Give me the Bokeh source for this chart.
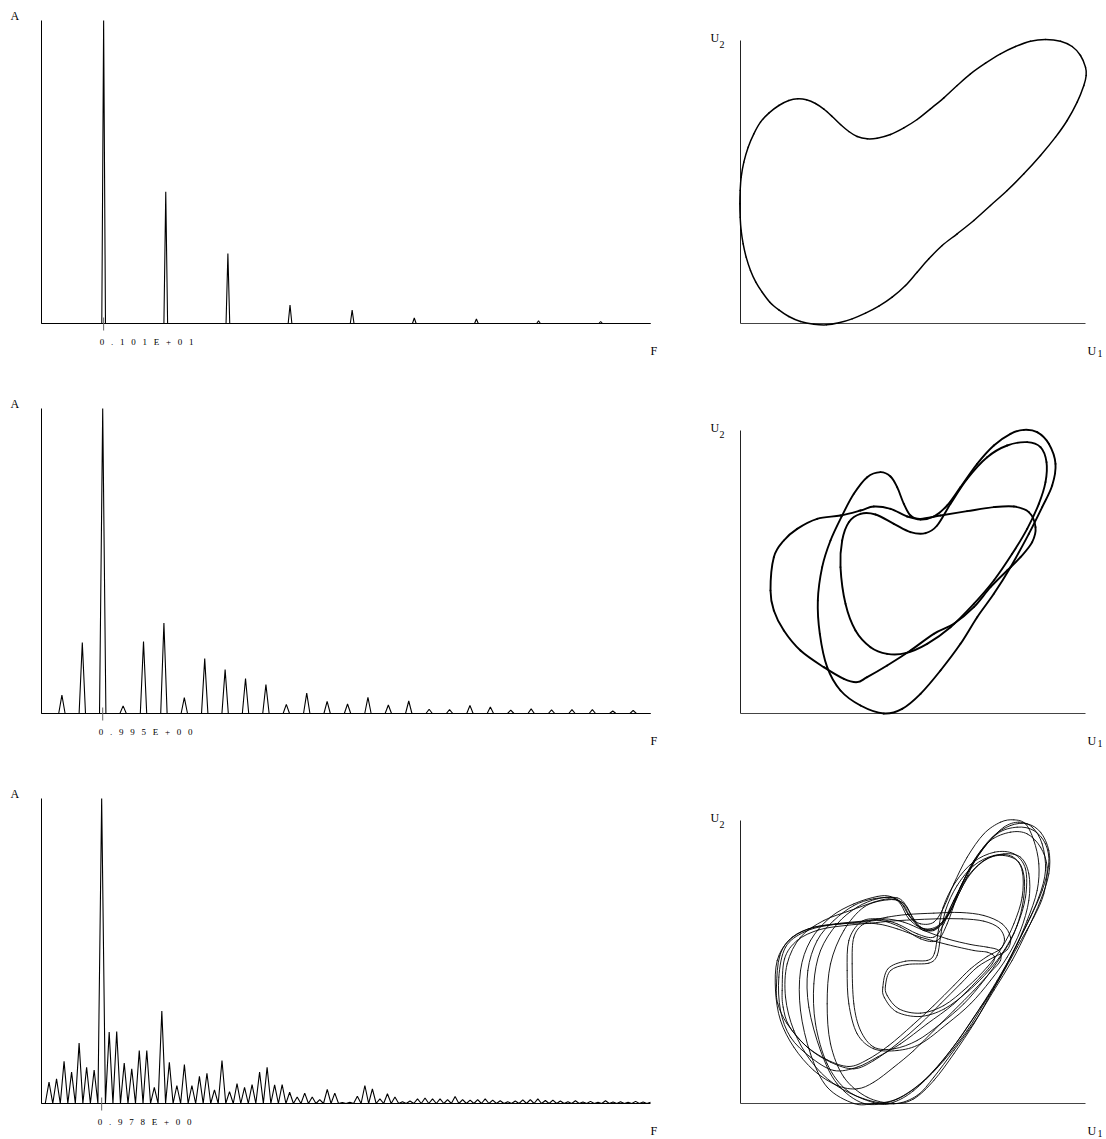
from bokeh.plotting import figure
from bokeh.layouts import column, row
from bokeh.core.properties import value
from bokeh.models import Range1d
from bokeh.embed import file_html
from bokeh.resources import INLINE

FONT = "Liberation Serif"

# ---------------- spectra (amplitude A vs frequency F) ----------------
F_MAX = 9.9

# regime 1: periodic, fundamental 1.01, harmonics 1..9
top_f0 = 1.01
top_amp = [1.0, 0.435, 0.231, 0.061, 0.044, 0.018, 0.015, 0.009, 0.0066]

# regime 2: period-3, lines at k * 0.995/3
mid_f0 = 0.995
mid_amp = [0.06, 0.233, 1.0, 0.025, 0.236, 0.297, 0.052, 0.18, 0.144, 0.115,
           0.095, 0.03, 0.067, 0.04, 0.031, 0.053, 0.028, 0.041, 0.014, 0.013,
           0.026, 0.021, 0.011, 0.015, 0.012, 0.013, 0.013, 0.008, 0.01, 0.01]

# regime 3: chaotic, bins at k * 0.978/8
bot_f0 = 0.978
bot_amp = [0.07, 0.081, 0.138, 0.103, 0.198, 0.119, 0.11, 1.0, 0.234, 0.236,
           0.133, 0.114, 0.174, 0.174, 0.053, 0.303, 0.135, 0.059, 0.128, 0.059,
           0.089, 0.099, 0.045, 0.141, 0.039, 0.065, 0.053, 0.062, 0.103, 0.119,
           0.061, 0.062, 0.037, 0.021, 0.034, 0.021, 0.013, 0.046, 0.034, 0.003,
           0.004, 0.024, 0.059, 0.048, 0.015, 0.032, 0.021, 0.006, 0.008, 0.015,
           0.018, 0.015, 0.015, 0.013, 0.023, 0.013, 0.011, 0.013, 0.015, 0.011,
           0.009, 0.006, 0.008, 0.012, 0.013, 0.015, 0.010, 0.011, 0.008, 0.006,
           0.009, 0.005, 0.007, 0.004, 0.009, 0.005, 0.006, 0.004, 0.007, 0.005,
           0.004]

# tick labels, printed with wide letter spacing
top_label = ["0", ".", "1", "0", "1", "E", "+", "0", "1"]
mid_label = ["0", ".", "9", "9", "5", "E", "+", "0", "0"]
bot_label = ["0", ".", "9", "7", "8", "E", "+", "0", "0"]

# ---------------- phase portraits (U2 vs U1) ----------------
U1_MAX = 10.35
U2_MAX = 8.49

top_u1 = [-0.02, -0.01, 0.02, 0.08, 0.17, 0.30, 0.46, 0.65, 0.88, 1.15, 1.45, 1.80, 2.20, 2.58,
          2.95, 3.35, 3.75, 4.15, 4.55, 4.95, 5.30, 5.65, 6.05, 6.50, 7.00, 7.50, 8.00, 8.50,
          9.00, 9.45, 9.80, 10.10, 10.30, 10.37, 10.35, 10.20, 9.95, 9.60, 9.15, 8.70, 8.25,
          7.80, 7.35, 6.90, 6.50, 6.10, 5.70, 5.30, 4.90, 4.50, 4.10, 3.80, 3.50, 3.25, 3.00,
          2.75, 2.50, 2.25, 1.98, 1.72, 1.45, 1.15, 0.85, 0.60, 0.40, 0.23, 0.10, 0.02, -0.01]
top_u2 = [3.59, 3.19, 2.79, 2.39, 1.99, 1.59, 1.24, 0.94, 0.64, 0.41, 0.21, 0.06, -0.02, -0.04,
          0.02, 0.14, 0.31, 0.52, 0.79, 1.14, 1.54, 1.94, 2.34, 2.69, 3.09, 3.54, 3.99, 4.49,
          5.04, 5.59, 6.09, 6.64, 7.14, 7.44, 7.69, 8.04, 8.31, 8.47, 8.52, 8.47, 8.31,
          8.09, 7.81, 7.49, 7.14, 6.77, 6.44, 6.12, 5.87, 5.67, 5.56, 5.54, 5.61, 5.76, 5.97,
          6.21, 6.43, 6.60, 6.71, 6.74, 6.69, 6.54, 6.31, 6.04, 5.69, 5.29, 4.84, 4.39, 3.99]

mid_a_u1 = [0.90, 1.00, 1.30, 1.70, 2.30, 3.00, 3.60, 4.00, 4.50, 5.00, 5.40, 6.00, 6.80, 7.60,
            8.20, 8.65, 8.85, 8.75, 8.40, 8.00, 7.50, 7.00, 6.40, 5.80, 5.10, 4.40, 3.80, 3.50,
            3.10, 2.50, 1.80, 1.30, 1.00]
mid_a_u2 = [3.69, 4.69, 5.19, 5.54, 5.84, 5.94, 6.09, 6.21, 6.14, 5.91, 5.84, 5.94, 6.07, 6.19,
            6.21, 6.04, 5.59, 5.14, 4.69, 4.29, 3.79, 3.19, 2.69, 2.39, 1.89, 1.44, 1.09, 0.94,
            1.04, 1.39, 1.89, 2.49, 3.09]
mid_b_u1 = [4.30, 3.60, 3.00, 2.60, 2.38, 2.32, 2.45, 2.70, 3.05, 3.40, 3.80, 4.20, 4.50, 4.70,
            4.90, 5.10, 5.40, 5.80, 6.20, 6.60, 7.10, 7.60, 8.10, 8.50, 8.90, 9.25, 9.45, 9.35,
            9.05, 8.65, 8.10, 7.60, 7.10, 6.60, 6.00, 5.40, 4.85]
mid_b_u2 = [0.00, 0.24, 0.69, 1.39, 2.39, 3.39, 4.39, 5.19, 5.94, 6.59, 7.09, 7.24, 7.11, 6.79,
            6.29, 5.94, 5.82, 5.91, 6.24, 6.79, 7.49, 8.04, 8.39, 8.51, 8.44, 8.09, 7.49, 6.84,
            6.19, 5.39, 4.39, 3.59, 2.89, 2.09, 1.29, 0.59, 0.14]
mid_c_u1 = [3.00, 3.05, 3.25, 3.60, 4.05, 4.60, 5.10, 5.55, 5.90, 6.30, 6.80, 7.40, 8.00, 8.60,
            9.00, 9.18, 9.15, 8.95, 8.60, 8.15, 7.60, 7.00, 6.30, 5.60, 4.95, 4.40, 3.90, 3.45, 3.15]
mid_c_u2 = [4.39, 5.19, 5.74, 5.99, 5.97, 5.69, 5.44, 5.41, 5.64, 6.29, 7.04, 7.69, 8.04, 8.14,
            7.99, 7.54, 6.94, 6.29, 5.54, 4.79, 3.99, 3.29, 2.59, 2.09, 1.81, 1.79, 1.99, 2.49, 3.29]

bot_loops_u1 = [
    [1.08, 1.18, 1.55, 2.20, 3.00, 3.80, 4.40, 5.00, 5.80, 6.60, 7.30, 7.85, 8.10, 8.00, 7.60, 7.10,
     6.60, 6.00, 5.40, 4.70, 4.00, 3.40, 2.70, 2.00, 1.40, 1.12],
    [1.15, 1.35, 1.90, 2.60, 3.40, 4.10, 4.70, 5.40, 6.20, 7.00, 7.40, 7.62, 7.55, 7.20, 6.40, 5.60,
     4.80, 4.10, 3.50, 2.80, 2.10, 1.50, 1.20],
    [4.10, 3.20, 2.60, 2.25, 2.20, 2.40, 2.90, 3.50, 4.10, 4.60, 4.90, 5.10, 5.40, 5.80, 6.10, 6.40,
     6.80, 7.30, 7.80, 8.20, 8.55, 8.80, 8.95, 8.90, 8.60, 8.20, 7.70, 7.20, 6.60, 5.90, 5.20, 4.60],
    [3.70, 2.90, 2.40, 2.05, 2.02, 2.30, 2.80, 3.40, 4.00, 4.70, 5.00, 5.20, 5.50, 5.90, 6.30, 6.60,
     7.00, 7.50, 8.10, 8.60, 9.00, 9.20, 9.10, 8.80, 8.30, 7.80, 7.30, 6.80, 6.10, 5.40, 4.60],
    [4.60, 3.80, 3.10, 2.70, 2.60, 2.70, 3.10, 3.70, 4.40, 4.85, 5.10, 5.40, 5.80, 6.20, 6.60, 7.10,
     7.70, 8.30, 8.80, 9.15, 9.25, 9.05, 8.70, 8.30, 7.90, 7.40, 7.00, 6.40, 5.80, 5.20],
    [3.35, 3.40, 3.70, 4.20, 4.80, 5.40, 5.90, 6.20, 6.50, 6.90, 7.40, 7.90, 8.35, 8.52, 8.45, 8.20,
     7.80, 7.30, 6.70, 6.00, 5.30, 4.60, 4.00, 3.60, 3.40],
    [3.20, 3.25, 3.60, 4.10, 4.70, 5.30, 5.80, 6.10, 6.40, 6.80, 7.30, 7.90, 8.40, 8.65, 8.65, 8.40,
     8.00, 7.50, 6.90, 6.20, 5.40, 4.70, 4.00, 3.50, 3.25],
    [4.35, 4.50, 5.00, 5.65, 5.90, 6.00, 6.15, 6.50, 7.00, 7.60, 8.15, 8.45, 8.45, 8.20, 7.85, 7.40,
     6.80, 6.10, 5.40, 4.75, 4.40],
    [4.27, 4.42, 4.95, 5.60, 5.82, 5.92, 6.08, 6.45, 6.98, 7.62, 8.20, 8.55, 8.55, 8.30, 7.92, 7.45,
     6.85, 6.12, 5.38, 4.68, 4.32],
    [1.25, 1.32, 1.70, 2.35, 3.15, 3.90, 4.50, 5.15, 5.90, 6.65, 7.30, 7.75, 7.92, 7.80, 7.40, 6.90,
     6.40, 5.80, 5.15, 4.45, 3.80, 3.25, 2.60, 1.95, 1.45, 1.28],
    [3.40, 2.60, 2.10, 1.80, 1.80, 2.10, 2.70, 3.40, 4.10, 4.50, 4.80, 5.05, 5.50, 6.00, 6.40, 6.85,
     7.40, 7.90, 8.35, 8.75, 9.05, 9.15, 8.95, 8.55, 8.10, 7.60, 7.00, 6.30, 5.50, 4.70, 4.00],
    [1.05, 1.10, 1.45, 2.05, 2.85, 3.65, 4.30, 4.90, 5.50, 6.20, 6.90, 7.40, 7.75, 7.80, 7.50, 7.00,
     6.40, 5.80, 5.20, 4.60, 4.00, 3.50, 2.90, 2.20, 1.60, 1.20],
    [4.60, 3.70, 2.80, 2.10, 1.60, 1.35, 1.40, 1.80, 2.50, 3.30, 4.00, 4.45, 4.80, 5.05, 5.40, 5.85,
     6.25, 6.60, 7.05, 7.55, 8.10, 8.60, 9.00, 9.25, 9.25, 9.00, 8.60, 8.15, 7.60, 7.05, 6.40, 5.80,
     5.30],
]
bot_loops_u2 = [
    [3.54, 4.44, 4.99, 5.29, 5.39, 5.47, 5.59, 5.67, 5.71, 5.73, 5.64, 5.39, 4.99, 4.61, 4.39, 4.09,
     3.59, 2.99, 2.39, 1.79, 1.29, 1.04, 1.24, 1.69, 2.39, 2.99],
    [3.79, 4.69, 5.14, 5.34, 5.41, 5.39, 5.24, 4.99, 4.77, 4.59, 4.54, 4.41, 4.19, 3.79, 2.99, 2.39,
     1.79, 1.39, 1.09, 0.99, 1.39, 1.99, 2.79],
    [0.00, 0.39, 1.19, 2.39, 3.59, 4.59, 5.39, 5.89, 6.14, 6.17, 5.94, 5.59, 5.39, 5.44, 5.89, 6.59,
     7.39, 8.09, 8.44, 8.51, 8.39, 7.89, 7.19, 6.39, 5.49, 4.59, 3.69, 2.89, 1.99, 1.09, 0.39, 0.04],
    [0.00, 0.59, 1.59, 2.89, 3.99, 4.89, 5.49, 5.94, 6.14, 6.17, 5.89, 5.49, 5.19, 5.29, 5.79, 6.49,
     7.29, 7.89, 8.14, 8.09, 7.69, 7.09, 6.29, 5.59, 4.69, 3.79, 2.99, 2.19, 1.29, 0.59, 0.09],
    [0.00, 0.19, 0.79, 1.79, 2.99, 4.19, 5.19, 5.89, 6.11, 6.04, 5.69, 5.29, 5.19, 5.59, 6.39, 7.39,
     8.09, 8.29, 8.19, 7.79, 7.19, 6.39, 5.59, 4.79, 3.99, 3.09, 2.39, 1.49, 0.69, 0.14],
    [4.19, 4.99, 5.39, 5.49, 5.29, 4.94, 4.89, 5.39, 6.19, 6.89, 7.34, 7.44, 7.24, 6.69, 5.89, 5.09,
     4.39, 3.69, 2.99, 2.39, 1.89, 1.64, 1.69, 2.19, 2.99],
    [3.99, 4.89, 5.44, 5.54, 5.39, 5.09, 4.99, 5.39, 6.09, 6.79, 7.29, 7.49, 7.39, 6.89, 6.09, 5.19,
     4.39, 3.69, 2.99, 2.39, 1.79, 1.59, 1.64, 2.09, 2.99],
    [3.54, 3.99, 4.17, 4.21, 4.44, 4.99, 5.79, 6.54, 7.14, 7.44, 7.41, 6.99, 6.19, 5.39, 4.69, 4.09,
     3.49, 2.94, 2.71, 2.84, 3.24],
    [3.49, 4.04, 4.27, 4.29, 4.51, 5.09, 5.89, 6.64, 7.24, 7.54, 7.49, 7.04, 6.19, 5.34, 4.61, 3.99,
     3.39, 2.84, 2.61, 2.75, 3.17],
    [3.39, 4.34, 4.89, 5.21, 5.34, 5.41, 5.47, 5.51, 5.54, 5.54, 5.47, 5.27, 4.94, 4.64, 4.41, 4.04,
     3.54, 2.94, 2.34, 1.74, 1.31, 1.11, 1.31, 1.74, 2.34, 2.89],
    [0.00, 0.49, 1.49, 2.79, 3.99, 4.89, 5.59, 5.99, 6.21, 6.21, 5.99, 5.54, 5.24, 5.39, 6.09, 6.99,
     7.79, 8.29, 8.44, 8.29, 7.79, 6.99, 6.19, 5.29, 4.39, 3.49, 2.59, 1.59, 0.69, 0.14, 0.00],
    [3.39, 4.29, 4.89, 5.24, 5.39, 5.47, 5.54, 5.44, 5.19, 4.94, 4.77, 4.69, 4.59, 4.29, 3.94, 3.39,
     2.79, 2.19, 1.59, 1.09, 0.64, 0.44, 0.54, 0.99, 1.69, 2.49],
    [-0.01, 0.14, 0.59, 1.29, 2.19, 3.19, 4.19, 4.99, 5.49, 5.79, 6.04, 6.14, 6.04, 5.64, 5.29, 5.24,
     5.69, 6.49, 7.34, 7.99, 8.34, 8.39, 8.14, 7.59, 6.89, 6.09, 5.19, 4.29, 3.39, 2.49, 1.59, 0.79,
     0.24],
]

# ---------------- layout (pixels) ----------------
LEFT_W, RIGHT_W = 700, 406
GAP = " \u00a0\u00a0"   # wide letter spacing of the printed tick value


def make_fig(W, H, left, top, bw, bh, xmax, ymax):
    """Figure whose whole canvas is the frame; the data box 0..xmax, 0..ymax
    sits at (left, top) with size bw x bh pixels."""
    sx, sy = bw / xmax, bh / ymax
    p = figure(width=W, height=H,
               x_range=Range1d(-left / sx, (W - left) / sx),
               y_range=Range1d(-(H - top - bh) / sy, ymax + top / sy),
               output_backend="svg", toolbar_location=None,
               x_axis_location=None, y_axis_location=None, min_border=0)
    p.outline_line_color = None
    p.grid.visible = False
    p.background_fill_color = "white"
    p.border_fill_color = "white"
    return p, sx, sy


def put_text(p, x, y, s, size):
    p.text(x=[x], y=[y], text=[s], text_font=value(FONT), text_font_size=size,
           text_color="black", text_baseline="alphabetic", text_align="left")


def clip_x(xs, ys, xmax):
    ox, oy = [xs[0]], [ys[0]]
    for i in range(1, len(xs)):
        if xs[i] <= xmax:
            ox.append(xs[i]); oy.append(ys[i])
        else:
            t = (xmax - xs[i - 1]) / (xs[i] - xs[i - 1])
            ox.append(xmax); oy.append(ys[i - 1] + t * (ys[i] - ys[i - 1]))
            break
    return ox, oy


def spectrum(H, top, bh, df, amps, hw, main_f, label):
    p, sx, sy = make_fig(LEFT_W, H, 41, top, 609, bh, F_MAX, 1.0)
    p.line([0, 0], [0, 1], line_color="black", line_width=1)
    p.line([0, F_MAX], [0, 0], line_color="black", line_width=1)
    p.segment(x0=[main_f], y0=[-7 / sy], x1=[main_f], y1=[6 / sy], line_color="#666666", line_width=1)
    xs, ys = [0.0], [0.0]
    for k, a in enumerate(amps, start=1):
        f = k * df
        xs += [f - hw, f, f + hw]
        ys += [0.0, a, 0.0]
    xs.append(F_MAX + 1)
    ys.append(0.0)
    xs, ys = clip_x(xs, ys, F_MAX)
    p.line(xs, ys, line_color="black", line_width=1.1)
    put_text(p, -31 / sx, 5 / sy + 1.0, "A", "12px")
    put_text(p, F_MAX + 0 / sx, -27 / sy, "F", "12px")
    put_text(p, main_f - 4 / sx, -18 / sy, GAP.join(label), "9px")
    return p


def smooth_closed(u, v):
    """Bezier segments through the read points of a closed orbit."""
    n = len(u)
    seg = dict(x0=[], y0=[], x1=[], y1=[], cx0=[], cy0=[], cx1=[], cy1=[])
    for i in range(n):
        a, b, c, d = (i - 1) % n, i, (i + 1) % n, (i + 2) % n
        seg["x0"].append(u[b]); seg["y0"].append(v[b])
        seg["x1"].append(u[c]); seg["y1"].append(v[c])
        seg["cx0"].append(u[b] + (u[c] - u[a]) / 6); seg["cy0"].append(v[b] + (v[c] - v[a]) / 6)
        seg["cx1"].append(u[c] - (u[d] - u[b]) / 6); seg["cy1"].append(v[c] - (v[d] - v[b]) / 6)
    return seg


def phase(H, top, loops_u1, loops_u2, lw):
    p, sx, sy = make_fig(RIGHT_W, H, 40, top, 345, 283, U1_MAX, U2_MAX)
    p.line([0, 0], [0, U2_MAX], line_color="#222222", line_width=1)
    p.line([0, U1_MAX], [0, 0], line_color="#444444", line_width=1.2)
    for u, v in zip(loops_u1, loops_u2):
        p.bezier(**smooth_closed(u, v), line_color="black", line_width=lw, line_cap="round")
    put_text(p, -30 / sx, U2_MAX + 3 / sy, "U", "12px")
    put_text(p, -21 / sx, U2_MAX - 4 / sy, "2", "10px")
    put_text(p, U1_MAX + 2 / sx, -27 / sy, "U", "12px")
    put_text(p, U1_MAX + 12 / sx, -30 / sy, "1", "10px")
    return p


l1 = spectrum(390, 20, 303, top_f0, top_amp, 0.03, top_f0, top_label)
l2 = spectrum(390, 18, 305, mid_f0 / 3, mid_amp, 0.052, mid_f0, mid_label)
l3 = spectrum(359, 18, 305, bot_f0 / 8, bot_amp, bot_f0 / 16, bot_f0, bot_label)

r1 = phase(390, 40, [top_u1], [top_u2], 1.5)
r2 = phase(390, 40, [mid_a_u1, mid_b_u1, mid_c_u1], [mid_a_u2, mid_b_u2, mid_c_u2], 1.9)
r3 = phase(359, 40, bot_loops_u1, bot_loops_u2, 0.9)

layout = column(row(l1, r1), row(l2, r2), row(l3, r3))

with open("out.html", "w") as fh:
    fh.write(file_html(layout, INLINE))
